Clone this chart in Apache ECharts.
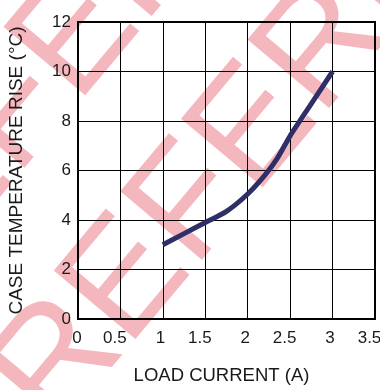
<!DOCTYPE html>
<html>
<head>
<meta charset="utf-8">
<script src="https://cdn.jsdelivr.net/npm/echarts@6/dist/echarts.min.js"></script>
<style>
  html, body { margin: 0; padding: 0; background: #ffffff; }
  #chart { width: 380px; height: 390px; }
</style>
</head>
<body>
<div id="chart"></div>
<script>
// Load current (A) vs. case temperature rise (°C)
const loadCurrent = [1, 1.25, 1.5, 1.75, 2, 2.2, 2.35, 2.5, 2.75, 3];
const tempRise    = [3.0, 3.45, 3.9, 4.35, 5.05, 5.8, 6.5, 7.4, 8.7, 10.0];

const xTicks = [0, 0.5, 1, 1.5, 2, 2.5, 3, 3.5];
const yTicks = [0, 2, 4, 6, 8, 10, 12];

const FONT = '"Liberation Sans", Arial, Helvetica, sans-serif';
const INK = '#1a1a1a';

const chart = echarts.init(document.getElementById('chart'), null, { renderer: 'canvas' });

const points = loadCurrent.map((x, i) => [x, tempRise[i]]);

// Diagonal stamp text, drawn in parallel rows behind the plot
const STAMP_ANGLE = 50 * Math.PI / 180;
function stampRow(x, y) {
  return {
    type: 'text',
    x: x,
    y: y,
    rotation: STAMP_ANGLE,
    z: -10,
    silent: true,
    style: {
      text: 'REFERENCE',
      font: '155px ' + FONT,
      fill: '#f5b7be',
      align: 'left',
      verticalAlign: 'middle'
    }
  };
}

// x tick labels sit a little left of their grid lines, decimals more so
const tickText = { fontFamily: FONT, fontSize: 17, color: INK };

chart.setOption({
  animation: false,
  backgroundColor: '#ffffff',
  graphic: [
    stampRow(22.6, 407),
    stampRow(-155, 315)
  ],
  grid: {
    left: 78,
    right: 5,
    top: 22,
    bottom: 71,
    containLabel: false,
    outerBoundsMode: 'none',
    show: true,
    borderColor: '#000',
    borderWidth: 2,
    backgroundColor: 'transparent'
  },
  xAxis: {
    type: 'value',
    min: xTicks[0],
    max: xTicks[xTicks.length - 1],
    interval: 0.5,
    name: 'LOAD CURRENT (A)',
    nameLocation: 'middle',
    nameGap: 47,
    nameTextStyle: { fontFamily: FONT, fontSize: 18.5, color: INK, padding: [0, 10, 0, 0] },
    axisLine: { show: false },
    axisTick: { show: false },
    axisLabel: {
      fontFamily: FONT, fontSize: 17, color: INK, margin: 11,
      hideOverlap: false,
      formatter: v => {
        if (v === 0) return '{z|' + v + '}';
        return Number.isInteger(v) ? '{i|' + v + '}' : '{d|' + v + '}';
      },
      rich: {
        z: Object.assign({ padding: [0, 2, 0, 0] }, tickText),
        i: Object.assign({ padding: [0, 5, 0, 0] }, tickText),
        d: Object.assign({ padding: [0, 11, 0, 0] }, tickText)
      }
    },
    splitLine: { show: true, lineStyle: { color: '#000', width: 1 } }
  },
  yAxis: {
    type: 'value',
    min: yTicks[0],
    max: yTicks[yTicks.length - 1],
    interval: 2,
    name: 'CASE TEMPERATURE RISE (°C)',
    nameLocation: 'middle',
    nameRotate: 90,
    nameGap: 52,
    nameTextStyle: { fontFamily: FONT, fontSize: 19, color: INK },
    axisLine: { show: false },
    axisTick: { show: false },
    axisLabel: { fontFamily: FONT, fontSize: 17, color: INK, margin: 7 },
    splitLine: { show: true, lineStyle: { color: '#000', width: 1 } }
  },
  series: [
    {
      type: 'line',
      data: points,
      smooth: 0.25,
      showSymbol: false,
      lineStyle: { color: '#2d2f66', width: 5, cap: 'butt' },
      z: 5
    }
  ]
});
</script>
</body>
</html>
